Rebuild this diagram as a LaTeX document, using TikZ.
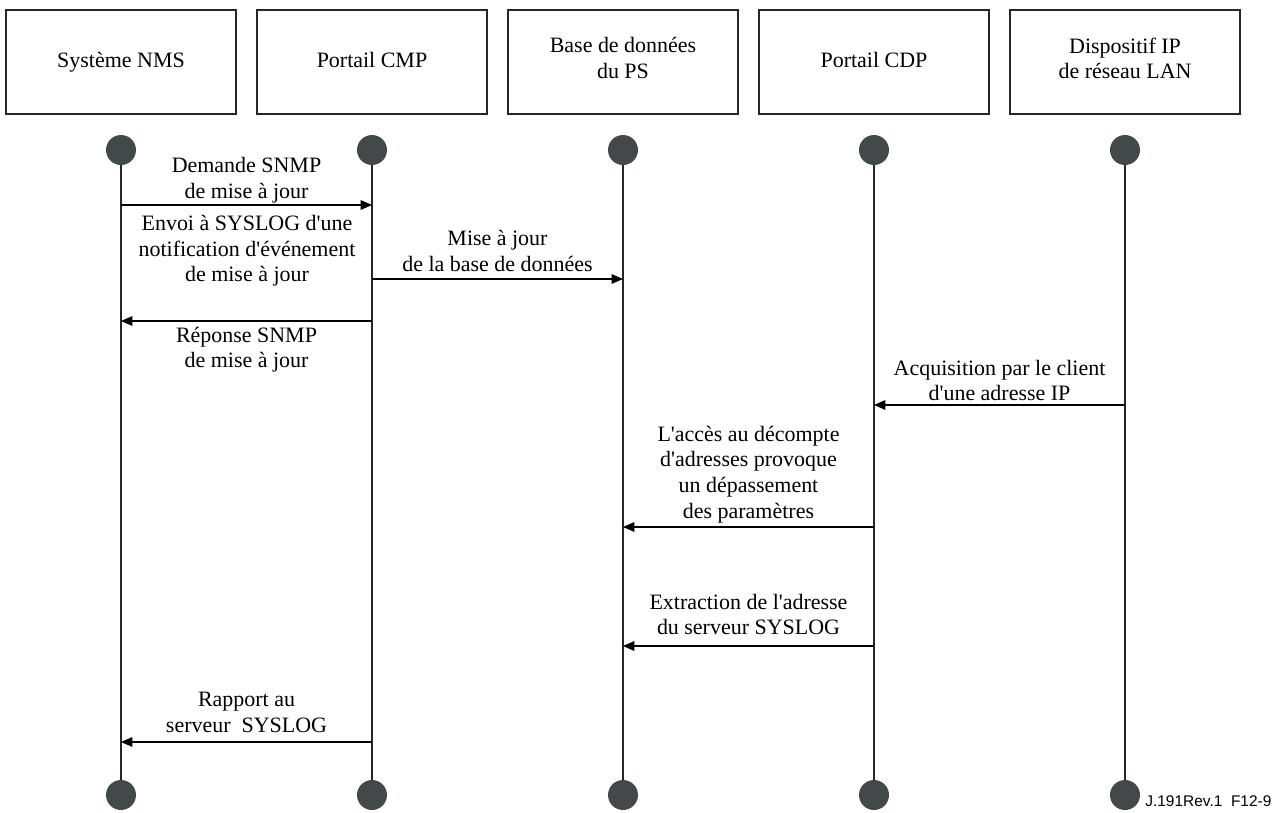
\documentclass[tikz,border=0pt]{standalone}
\usepackage{fontspec}
\setmainfont{Liberation Serif}[Ligatures=TeXOff]
\newfontfamily\refont{Liberation Sans}
\usetikzlibrary{arrows.meta}
\definecolor{dotgray}{RGB}{67,72,75}

\begin{document}
\begin{tikzpicture}[x=0.02cm,y=-0.02cm,
node font=\fontsize{12.5}{14.6}\selectfont,
head/.style={draw=black!85,line width=1.1pt,minimum width=4.6cm,
minimum height=2.08cm,align=center,
execute at begin node=\strut,execute at end node=\strut},
dot/.style={circle,fill=dotgray,minimum size=0.6cm,inner sep=0pt},
msg/.style={-{Triangle[length=6.5pt,width=5.5pt]},line width=0.6pt},
txt/.style={align=center,inner sep=2pt}]
\useasboundingbox (0,0) rectangle (1282,812);
% entities with their lifelines
\foreach \n/\x/\t in {1/121/Système NMS, 2/372/Portail CMP,
  3/623/{Base de données\\du PS}, 4/874/Portail CDP,
  5/1125/{Dispositif IP\\de réseau LAN}}
{
  \node[head] (h\n) at (\x,62) {\t};
  \node[dot] (t\n) at (\x,150) {};
  \node[dot] (b\n) at (\x,795) {};
  \draw[line width=0.6pt,black!85] (t\n) -- (b\n);
}
% message levels
\foreach \m/\y in {1/205,2/279,3/321,4/405,5/527,6/646,7/742}
  \coordinate (y\m) at (0,\y);
\draw[msg] (t1 |- y1) -- (t2 |- y1)
  node[midway,above=-1pt,txt] {Demande SNMP\\de mise à jour};
\node[txt] (envoi) at (247,251)
  {Envoi à SYSLOG d'une\\notification d'événement\\de mise à jour};
\draw[msg] (t2 |- y2) -- (t3 |- y2)
  node[midway,above=2pt,txt] {Mise à jour\\de la base de données};
\draw[msg] (t2 |- y3) -- (t1 |- y3)
  node[midway,below=1pt,txt] {Réponse SNMP\\de mise à jour};
\draw[msg] (t5 |- y4) -- (t4 |- y4)
  node[midway,above,txt] {Acquisition par le client\\d'une adresse IP};
\draw[msg] (t4 |- y5) -- (t3 |- y5)
  node[midway,above,txt] {L'accès au décompte\\d'adresses provoque\\un dépassement\\des paramètres};
\draw[msg] (t4 |- y6) -- (t3 |- y6)
  node[midway,above=4pt,txt] {Extraction de l'adresse\\du serveur SYSLOG};
\draw[msg] (t2 |- y7) -- (t1 |- y7)
  node[midway,above=3pt,txt] {Rapport au\\serveur~~SYSLOG};
\node[anchor=west,inner sep=0pt,font=\refont\fontsize{8.8}{10}\selectfont]
  (ref) at (1145,801) {J.191Rev.1~~F12-9};
\end{tikzpicture}
\end{document}
